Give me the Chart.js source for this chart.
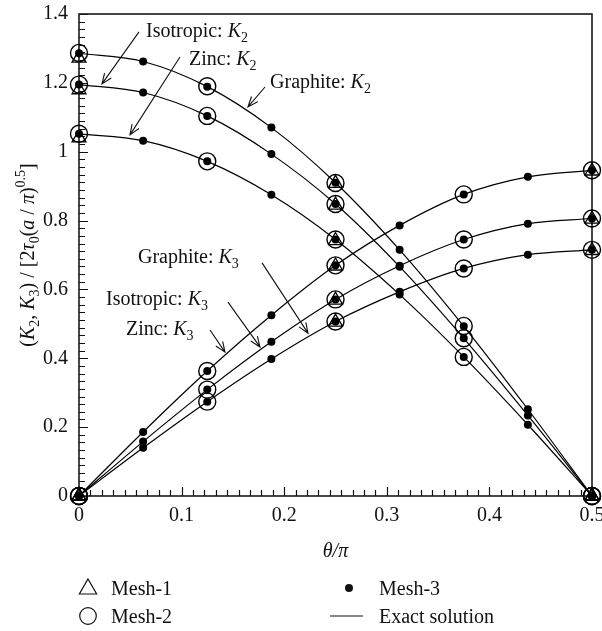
<!DOCTYPE html>
<html>
<head>
<meta charset="utf-8">
<script src="https://cdn.jsdelivr.net/npm/chart.js@4.4.1/dist/chart.umd.min.js"></script>
<style>
  html, body { margin: 0; padding: 0; background: #fff; }
  #wrap { width: 602px; height: 631px; position: relative; }
</style>
</head>
<body>
<div id="wrap"><canvas id="myChart"></canvas></div>
<script>
// theta/pi positions of each mesh
const thetaMesh3 = [0, 0.0625, 0.125, 0.1875, 0.25, 0.3125, 0.375, 0.4375, 0.5];
const thetaMesh2 = [0, 0.125, 0.25, 0.375, 0.5];
const thetaMesh1 = [0, 0.25, 0.5];

// exact solution / Mesh-3 dots
const k2Graphite  = [1.286, 1.262, 1.189, 1.070, 0.910, 0.715, 0.493, 0.252, 0];
const k2Isotropic = [1.195, 1.172, 1.104, 0.993, 0.848, 0.666, 0.458, 0.234, 0];
const k2Zinc      = [1.052, 1.032, 0.972, 0.875, 0.745, 0.585, 0.404, 0.207, 0];
const k3Graphite  = [0, 0.186, 0.363, 0.525, 0.670, 0.786, 0.876, 0.927, 0.946];
const k3Isotropic = [0, 0.158, 0.309, 0.448, 0.571, 0.669, 0.745, 0.791, 0.806];
const k3Zinc      = [0, 0.140, 0.274, 0.398, 0.507, 0.593, 0.661, 0.701, 0.715];

// Mesh-2 circles
const mesh2K2Graphite  = [1.287, 1.190, 0.909, 0.494, 0];
const mesh2K2Isotropic = [1.195, 1.104, 0.848, 0.458, 0];
const mesh2K2Zinc      = [1.052, 0.972, 0.745, 0.404, 0];
const mesh2K3Graphite  = [0, 0.363, 0.670, 0.876, 0.946];
const mesh2K3Isotropic = [0, 0.309, 0.571, 0.745, 0.806];
const mesh2K3Zinc      = [0, 0.274, 0.507, 0.661, 0.715];

// Mesh-1 triangles
const mesh1K2Graphite  = [1.272, 0.908, 0];
const mesh1K2Isotropic = [1.180, 0.845, 0];
const mesh1K2Zinc      = [1.040, 0.742, 0];
const mesh1K3Graphite  = [0, 0.668, 0.944];
const mesh1K3Isotropic = [0, 0.569, 0.804];
const mesh1K3Zinc      = [0, 0.505, 0.713];

const xTicks = [0, 0.1, 0.2, 0.3, 0.4, 0.5];
const yTicks = [0, 0.2, 0.4, 0.6, 0.8, 1, 1.2, 1.4];

const exactCurves = [k2Graphite, k2Isotropic, k2Zinc, k3Graphite, k3Isotropic, k3Zinc];
const mesh2Curves = [mesh2K2Graphite, mesh2K2Isotropic, mesh2K2Zinc, mesh2K3Graphite, mesh2K3Isotropic, mesh2K3Zinc];
const mesh1Curves = [mesh1K2Graphite, mesh1K2Isotropic, mesh1K2Zinc, mesh1K3Graphite, mesh1K3Isotropic, mesh1K3Zinc];

function pts(xs, ys) {
  return xs.map((x, i) => ({ x: x, y: ys[i] }));
}

const FONT = "'Liberation Serif', 'Times New Roman', serif";
Chart.defaults.font.family = FONT;
Chart.defaults.font.size = 20;
Chart.defaults.color = '#111';

const datasets = [];
exactCurves.forEach(c => {
  datasets.push({
    label: 'Exact solution',
    data: pts(thetaMesh3, c),
    showLine: true,
    borderColor: '#000',
    borderWidth: 1.2,
    pointRadius: 0,
    cubicInterpolationMode: 'monotone',
    order: 3
  });
});
datasets.push({
  label: 'Mesh-1',
  data: mesh1Curves.flatMap(c => pts(thetaMesh1, c)),
  pointStyle: 'triangle',
  pointRadius: 8,
  pointBorderWidth: 1.3,
  pointBorderColor: '#000',
  pointBackgroundColor: 'rgba(0,0,0,0)',
  clip: false,
  order: 2
});
datasets.push({
  label: 'Mesh-2',
  data: mesh2Curves.flatMap(c => pts(thetaMesh2, c)),
  pointStyle: 'circle',
  pointRadius: 8.5,
  pointBorderWidth: 1.4,
  pointBorderColor: '#000',
  pointBackgroundColor: 'rgba(0,0,0,0)',
  clip: false,
  order: 1
});
datasets.push({
  label: 'Mesh-3',
  data: exactCurves.flatMap(c => pts(thetaMesh3, c)),
  pointStyle: 'circle',
  pointRadius: 4,
  pointBorderWidth: 0,
  pointBackgroundColor: '#000',
  clip: false,
  order: 0
});

// labels with arrows, placed in data units
const notes = [
  { name: 'Isotropic: ', k: '2', at: [0.0653, 1.334], from: [0.0585, 1.348], to: [0.0224, 1.197] },
  { name: 'Zinc: ',      k: '2', at: [0.1072, 1.252], from: [0.0984, 1.275], to: [0.0497, 1.049] },
  { name: 'Graphite: ',  k: '2', at: [0.1862, 1.185], from: [0.1813, 1.188], to: [0.1647, 1.130] },
  { name: 'Graphite: ',  k: '3', at: [0.0575, 0.677], from: [0.1784, 0.677], to: [0.2232, 0.473] },
  { name: 'Isotropic: ', k: '3', at: [0.0263, 0.555], from: [0.1452, 0.563], to: [0.1764, 0.433] },
  { name: 'Zinc: ',      k: '3', at: [0.0458, 0.468], from: [0.1277, 0.482], to: [0.1423, 0.418] }
];

function fnt(size, italic) {
  return (italic ? 'italic ' : '') + size + 'px ' + FONT;
}

function runsWidth(ctx, runs) {
  let w = 0;
  runs.forEach(r => {
    ctx.font = fnt(r.s ? 14 : 20, r.it);
    w += ctx.measureText(r.t).width;
  });
  return w;
}

function drawRuns(ctx, runs, x, y) {
  let cx = x;
  runs.forEach(r => {
    ctx.font = fnt(r.s ? 14 : 20, r.it);
    const dy = r.s === 'sub' ? 5 : (r.s === 'sup' ? -9 : 0);
    ctx.fillText(r.t, cx, y + dy);
    cx += ctx.measureText(r.t).width;
  });
}

function arrow(ctx, x1, y1, x2, y2) {
  const ang = Math.atan2(y2 - y1, x2 - x1);
  const len = 11, spread = 0.38;
  ctx.beginPath();
  ctx.moveTo(x1, y1);
  ctx.lineTo(x2, y2);
  ctx.moveTo(x2 - len * Math.cos(ang - spread), y2 - len * Math.sin(ang - spread));
  ctx.lineTo(x2, y2);
  ctx.lineTo(x2 - len * Math.cos(ang + spread), y2 - len * Math.sin(ang + spread));
  ctx.stroke();
}

function triangle(ctx, x, y, r) {
  ctx.beginPath();
  for (let i = 0; i < 3; i++) {
    const a = i * 2 * Math.PI / 3;
    const px = x + Math.sin(a) * r, py = y - Math.cos(a) * r;
    if (i === 0) ctx.moveTo(px, py); else ctx.lineTo(px, py);
  }
  ctx.closePath();
  ctx.stroke();
}

const framePlugin = {
  id: 'frame',
  beforeDatasetsDraw(chart) {
    const ctx = chart.ctx, a = chart.chartArea;
    const xs = chart.scales.x, ys = chart.scales.y;
    ctx.save();
    ctx.strokeStyle = '#111';
    ctx.lineWidth = 1.2;
    // inward ticks, 8 minor between majors
    ctx.beginPath();
    for (let k = 0; k <= 45; k++) {
      const px = Math.round(xs.getPixelForValue(k * 0.1 / 9)) + 0.5;
      const len = k % 9 === 0 ? 9 : 6;
      ctx.moveTo(px, a.bottom);
      ctx.lineTo(px, a.bottom - len);
    }
    for (let k = 0; k <= 63; k++) {
      const py = Math.round(ys.getPixelForValue(k * 0.2 / 9)) + 0.5;
      const len = k % 9 === 0 ? 9 : 6;
      ctx.moveTo(a.left, py);
      ctx.lineTo(a.left + len, py);
    }
    ctx.stroke();
    ctx.lineWidth = 1.6;
    ctx.strokeStyle = '#1a1a1a';
    ctx.strokeRect(a.left, a.top, a.right - a.left, a.bottom - a.top);
    ctx.restore();
  },
  afterDraw(chart) {
    const ctx = chart.ctx, a = chart.chartArea;
    const xs = chart.scales.x, ys = chart.scales.y;
    ctx.save();
    ctx.fillStyle = '#111';
    ctx.strokeStyle = '#111';
    ctx.lineWidth = 1.1;
    ctx.textBaseline = 'alphabetic';
    ctx.textAlign = 'left';

    notes.forEach(n => {
      drawRuns(ctx, [{ t: n.name }, { t: 'K', it: true }, { t: n.k, s: 'sub' }],
        xs.getPixelForValue(n.at[0]), ys.getPixelForValue(n.at[1]));
      arrow(ctx, xs.getPixelForValue(n.from[0]), ys.getPixelForValue(n.from[1]),
        xs.getPixelForValue(n.to[0]), ys.getPixelForValue(n.to[1]));
    });

    // y axis title
    const yTitle = [
      { t: '(' }, { t: 'K', it: true }, { t: '2', s: 'sub' }, { t: ', ' },
      { t: 'K', it: true }, { t: '3', s: 'sub' }, { t: ') / [2' },
      { t: 'τ', it: true }, { t: '0', s: 'sub' }, { t: '(' }, { t: 'a', it: true },
      { t: ' / ' }, { t: 'π', it: true }, { t: ')' }, { t: '0.5', s: 'sup' }, { t: ']' }
    ];
    ctx.save();
    ctx.translate(28, (a.top + a.bottom) / 2);
    ctx.rotate(-Math.PI / 2);
    drawRuns(ctx, yTitle, -runsWidth(ctx, yTitle) / 2, 6);
    ctx.restore();

    // legend, two columns
    const r1 = 588, r2 = 616;
    ctx.lineWidth = 1.2;
    triangle(ctx, 88, r1 + 1, 10);
    ctx.beginPath();
    ctx.arc(88, r2, 8.3, 0, Math.PI * 2);
    ctx.stroke();
    ctx.beginPath();
    ctx.arc(349, r1, 4, 0, Math.PI * 2);
    ctx.fill();
    ctx.beginPath();
    ctx.moveTo(330, r2);
    ctx.lineTo(363, r2);
    ctx.stroke();
    ctx.font = fnt(20, false);
    ctx.fillText('Mesh-1', 111, r1 + 6.5);
    ctx.fillText('Mesh-2', 111, r2 + 6.5);
    ctx.fillText('Mesh-3', 379, r1 + 6.5);
    ctx.fillText('Exact solution', 379, r2 + 6.5);
    ctx.restore();
  }
};

new Chart(document.getElementById('myChart'), {
  type: 'scatter',
  data: { datasets: datasets },
  options: {
    responsive: true,
    maintainAspectRatio: false,
    animation: false,
    layout: { padding: { left: 0, right: 10, top: 14, bottom: 0 } },
    plugins: { legend: { display: false }, tooltip: { enabled: false } },
    scales: {
      x: {
        type: 'linear',
        min: 0,
        max: 0.5,
        grid: { display: false, drawTicks: false },
        border: { display: false },
        afterBuildTicks: s => { s.ticks = xTicks.map(v => ({ value: v })); },
        ticks: { padding: 8, maxRotation: 0, autoSkip: false, callback: v => String(v) },
        title: { display: true, text: 'θ/π', font: { size: 20, style: 'italic' }, padding: { top: 0, bottom: 67 } },
        afterFit: s => { s.height = 135; s.paddingLeft = 0; s.paddingRight = 0; }
      },
      y: {
        type: 'linear',
        min: 0,
        max: 1.4,
        grid: { display: false, drawTicks: false },
        border: { display: false },
        afterBuildTicks: s => { s.ticks = yTicks.map(v => ({ value: v })); },
        ticks: { padding: 11, autoSkip: false, callback: v => String(v) },
        afterFit: s => { s.width = 79; s.paddingTop = 0; s.paddingBottom = 0; }
      }
    }
  },
  plugins: [framePlugin]
});
</script>
</body>
</html>
